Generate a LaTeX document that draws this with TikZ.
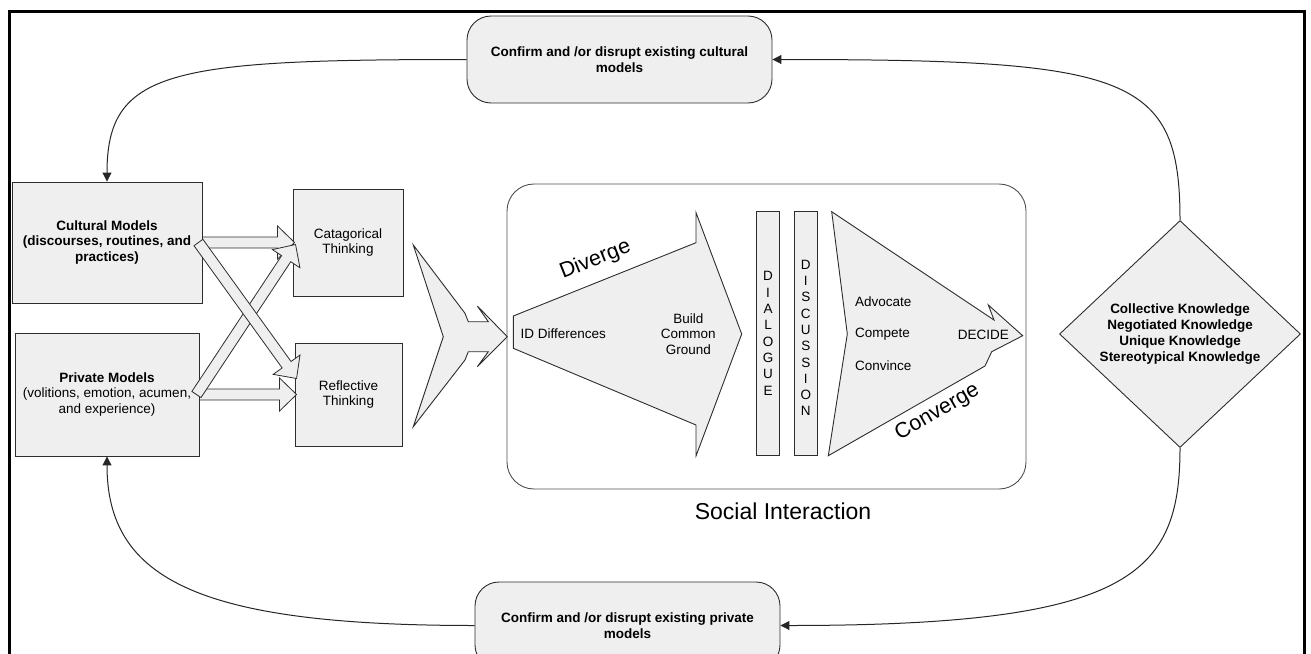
\documentclass[tikz,border=0pt]{standalone}
\usepackage{fontspec}
\setmainfont{Liberation Sans}
\usetikzlibrary{shapes.geometric,arrows.meta,calc}
\definecolor{boxgray}{RGB}{239,239,239}
\definecolor{edgegray}{RGB}{45,45,45}
\definecolor{framegray}{RGB}{80,80,80}
\newcommand\smalltxt{\fontsize{13.5}{15.7}\selectfont}
\newcommand\bigtxt{\fontsize{21.5}{24}\selectfont}

% wide hollow arrow from #1 to #2 (shaft 11, head 33 x 17)
\newcommand\fatarrow[2]{%
  \path[fatarrowstyle] let \p1=(#1), \p2=(#2),
    \n1={atan2(\y2-\y1,\x2-\x1)}, \n2={veclen(\x2-\x1,\y2-\y1)} in
    ([shift={(\p1)},rotate=\n1]0pt,5.5pt)
    -- ([shift={(\p1)},rotate=\n1]\n2-17pt,5.5pt)
    -- ([shift={(\p1)},rotate=\n1]\n2-17pt,16.5pt)
    -- ([shift={(\p1)},rotate=\n1]\n2,0pt)
    -- ([shift={(\p1)},rotate=\n1]\n2-17pt,-16.5pt)
    -- ([shift={(\p1)},rotate=\n1]\n2-17pt,-5.5pt)
    -- ([shift={(\p1)},rotate=\n1]0pt,-5.5pt) -- cycle;}

\begin{document}
\begin{tikzpicture}[x=1pt,y=-1pt,
  box/.style={draw=edgegray, fill=boxgray, line width=0.9pt, inner sep=0pt,
    align=center, font=\smalltxt},
  roundbox/.style={box, rounded corners=24pt},
  shapefill/.style={draw=edgegray, fill=boxgray, line width=0.9pt, line join=miter},
  fatarrowstyle/.style={draw=edgegray, fill=boxgray, line width=0.8pt, line join=miter},
  conn/.style={draw=black!85, line width=1pt, -{Triangle[length=9pt,width=9pt]}},
  lbl/.style={font=\smalltxt, align=center, inner sep=0pt},
  letters/.style={font=\fontsize{13.5}{16.3}\selectfont, align=center, inner sep=0pt},
  biglbl/.style={font=\bigtxt, inner sep=0pt}]

\useasboundingbox (0,0) rectangle (1311,653);

% outer frame, open at the bottom
\draw[line width=3pt] (9,660) -- (9,11) -- (1304,11) -- (1304,660);

% feedback boxes
\node[roundbox, minimum width=305, minimum height=87] (topbox) at (619.5,59.5)
  {\textbf{Confirm and /or disrupt existing cultural}\\\textbf{models}};
\node[roundbox, minimum width=305, minimum height=87] (botbox) at (627.5,625.5)
  {\textbf{Confirm and /or disrupt existing private}\\\textbf{models}};

% model boxes
\node[box, minimum width=190, minimum height=121] (cult) at (107,242.5)
  {\textbf{Cultural Models}\\\textbf{(discourses, routines, and}\\\textbf{practices)}};
\node[box, minimum width=184, minimum height=123] (priv) at (107,394.5)
  {\textbf{Private Models}\\(volitions, emotion, acumen,\\and experience)};

% thinking boxes
\node[box, minimum width=110, minimum height=107] (cat) at (348,242.5)
  {Catagorical\\Thinking};
\node[box, minimum width=107, minimum height=103] (refl) at (348.5,394.5)
  {Reflective\\Thinking};

% wide arrows from the models to the kinds of thinking
\fatarrow{cult.east}{[xshift=2pt]cat.west}
\fatarrow{priv.east}{[xshift=2pt]refl.west}
\fatarrow{[xshift=-3pt]priv.east}{[xshift=3pt,yshift=-2pt]cat.west}
\fatarrow{[xshift=-4pt]cult.east}{[xshift=2pt,yshift=16pt]refl.west}

% merging arrow into the interaction
\draw[shapefill] (413.3,245) -- (465,313.3) -- (468.3,321.7) -- (488.3,321.7)
  -- (477.3,306) -- (507.3,336.7) -- (477.3,366.7) -- (488.3,351.7)
  -- (468.3,351.7) -- (465,360) -- (413.3,426.7) -- (443.3,336.7) -- cycle;

% social interaction frame
\node[draw=framegray, line width=0.9pt, rounded corners=27pt, minimum width=519,
  minimum height=305, inner sep=0pt] (social) at (766.5,336.5) {};
\node[biglbl, font=\fontsize{23}{26}\selectfont] (sociallbl) at (783,511) {Social Interaction};

% diverge arrow
\draw[shapefill] (513.3,316) -- (696,242.7) -- (696,212.7) -- (741.7,334)
  -- (696,456) -- (696,425) -- (513.3,348.3) -- cycle;
\node[biglbl, rotate=21.7] (diverge) at (595.4,260) {Diverge};
\node[lbl] (iddiff) at (563.3,334) {ID Differences};
\node[lbl] (build) at (688.3,334) {Build\\Common\\Ground};

% dialogue and discussion bars
\node[box, minimum width=22.6, minimum height=243.3] (dlgbar) at (768,333.4) {};
\node[box, minimum width=23, minimum height=243.3] (discbar) at (805.8,333.4) {};
\node[letters] (dlgtxt) at (768,333.4) {D\\I\\A\\L\\O\\G\\U\\E};
\node[letters] (disctxt) at (805.8,338) {D\\I\\S\\C\\U\\S\\S\\I\\O\\N};

% converge arrow
\draw[shapefill] (831.7,211.7) -- (994,320) -- (988.3,305) -- (1022.7,335.7)
  -- (991.7,351.7) -- (985,366) -- (828.3,455.7) -- (847.3,334) -- cycle;
\node[lbl, anchor=west] (advocate) at (855,301.7) {Advocate};
\node[lbl, anchor=west] (compete) at (855,333.7) {Compete};
\node[lbl, anchor=west] (convince) at (855,366) {Convince};
\node[lbl] (decide) at (983.3,335) {DECIDE};
\node[biglbl, rotate=29.8] (converge) at (937.5,412.5) {Converge};

% knowledge outcomes
\node[diamond, draw=edgegray, fill=boxgray, line width=0.9pt, inner sep=0pt,
  aspect=1.06, minimum width=241, minimum height=227, align=center,
  font=\fontsize{13.5}{15.9}\selectfont] (know) at (1180,334)
  {\textbf{Collective Knowledge}\\\textbf{Negotiated Knowledge}\\
   \textbf{Unique Knowledge}\\\textbf{Stereotypical Knowledge}};

% feedback loops
\draw[conn] (know.north) .. controls (1180,75) and (1130,59.5) .. (topbox.east);
\draw[conn] (topbox.west) .. controls (170,59.5) and (107,70) .. (cult.north);
\draw[conn] (know.south) .. controls (1180,575) and (1130,625.5) .. (botbox.east);
\draw[conn] (botbox.west) .. controls (200,625.5) and (107,580) .. (priv.south);

\end{tikzpicture}
\end{document}
